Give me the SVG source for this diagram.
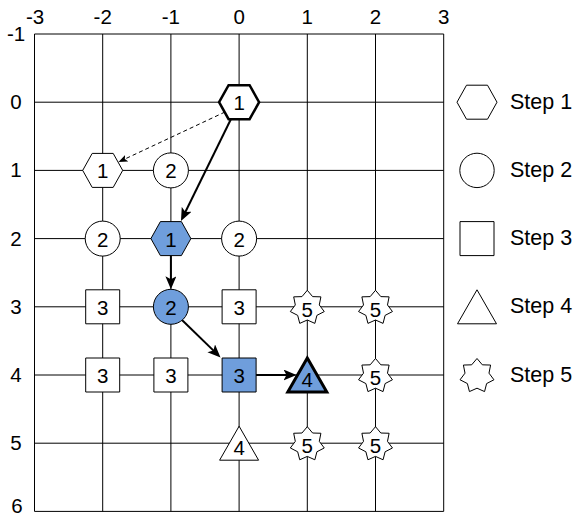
<svg xmlns="http://www.w3.org/2000/svg" width="579" height="517" viewBox="0 0 579 517">
  <style>
    .grid line { stroke: #000; stroke-width: 1; }
    .axis { font-family: "Liberation Sans", Arial, sans-serif; font-size: 20.5px; fill: #000; text-anchor: middle; }
    .shape { fill: #fff; stroke: #000; stroke-width: 1; }
    .blue { fill: #6F9EDC; }
    .bold { stroke-width: 2.5; }
    .label { font-family: "Liberation Sans", Arial, sans-serif; font-size: 20.5px; fill: #000; text-anchor: middle; }
    .legend { font-family: "Liberation Sans", Arial, sans-serif; font-size: 21.5px; fill: #000; }
    .edge { stroke: #000; stroke-width: 2; fill: none; }
    .dashed { stroke: #000; stroke-width: 1; stroke-dasharray: 4 3; fill: none; }
  </style>
  <defs>
    <path id="hex" d="M-20,0 L-10.5,-17 L10.5,-17 L20,0 L10.5,17 L-10.5,17 Z"/>
    <path id="sq" d="M-17,-17 H17 V17 H-17 Z"/>
    <path id="tri" d="M0,-17 L19.5,17 L-19.5,17 Z"/>
    <path id="star" d="M0,-17.4 L5.34,-11.08 L13.6,-10.85 L11.99,-2.74 L16.96,3.87 L9.62,7.67 L7.55,15.68 L0,12.3 L-7.55,15.68 L-9.62,7.67 L-16.96,3.87 L-11.99,-2.74 L-13.6,-10.85 L-5.34,-11.08 Z"/>
    <marker id="head" markerUnits="userSpaceOnUse" markerWidth="14" markerHeight="12" refX="5" refY="5.5" orient="auto">
      <path d="M0,0 L13,5.5 L0,11 L3,5.5 Z" fill="#000"/>
    </marker>
    <marker id="headSmall" markerUnits="userSpaceOnUse" markerWidth="10" markerHeight="8" refX="4" refY="3.5" orient="auto">
      <path d="M0,0 L9,3.5 L0,7 L2,3.5 Z" fill="#000"/>
    </marker>
  </defs>

  <!-- grid -->
  <g id="grid" class="grid">
    <line x1="34.5" y1="34" x2="34.5" y2="511.4"/>
    <line x1="102.7" y1="34" x2="102.7" y2="511.4"/>
    <line x1="170.9" y1="34" x2="170.9" y2="511.4"/>
    <line x1="239.1" y1="34" x2="239.1" y2="511.4"/>
    <line x1="307.3" y1="34" x2="307.3" y2="511.4"/>
    <line x1="375.5" y1="34" x2="375.5" y2="511.4"/>
    <line x1="443.7" y1="34" x2="443.7" y2="511.4"/>
    <line x1="34.5" y1="34" x2="443.7" y2="34"/>
    <line x1="34.5" y1="102.2" x2="443.7" y2="102.2"/>
    <line x1="34.5" y1="170.4" x2="443.7" y2="170.4"/>
    <line x1="34.5" y1="238.6" x2="443.7" y2="238.6"/>
    <line x1="34.5" y1="306.8" x2="443.7" y2="306.8"/>
    <line x1="34.5" y1="375" x2="443.7" y2="375"/>
    <line x1="34.5" y1="443.2" x2="443.7" y2="443.2"/>
    <line x1="34.5" y1="511.4" x2="443.7" y2="511.4"/>
  </g>

  <!-- axis labels -->
  <g id="axes" class="axis">
    <text x="35" y="23.5">-3</text>
    <text x="102.7" y="23.5">-2</text>
    <text x="170.9" y="23.5">-1</text>
    <text x="239.1" y="23.5">0</text>
    <text x="307.3" y="23.5">1</text>
    <text x="375.5" y="23.5">2</text>
    <text x="443.7" y="23.5">3</text>
    <text x="16" y="41">-1</text>
    <text x="16" y="109.2">0</text>
    <text x="16" y="177.4">1</text>
    <text x="16" y="245.6">2</text>
    <text x="16" y="313.8">3</text>
    <text x="16" y="382">4</text>
    <text x="16" y="450.2">5</text>
    <text x="17" y="512.6">6</text>
  </g>

  <!-- connectors -->
  <g id="connectors">
    <line class="dashed" x1="225" y1="112" x2="123" y2="159.9" marker-end="url(#headSmall)"/>
    <line class="edge" x1="231" y1="119" x2="184.5" y2="213.8" marker-end="url(#head)"/>
    <line class="edge" x1="170.9" y1="255.6" x2="170.9" y2="281.3" marker-end="url(#head)"/>
    <line class="edge" x1="182" y1="320" x2="214.8" y2="351.9" marker-end="url(#head)"/>
    <line class="edge" x1="256" y1="375" x2="288.5" y2="375" marker-end="url(#head)"/>
  </g>

  <!-- nodes -->
  <g id="n-0-0" transform="translate(239.1,102.2)">
    <use href="#hex" class="shape bold"/>
    <text class="label" y="8">1</text>
  </g>
  <g id="n-m2-1" transform="translate(102.7,170.4)">
    <use href="#hex" class="shape"/>
    <text class="label" y="8">1</text>
  </g>
  <g id="n-m1-1" transform="translate(170.9,170.4)">
    <circle r="17.5" class="shape"/>
    <text class="label" y="8">2</text>
  </g>
  <g id="n-m2-2" transform="translate(102.7,238.6)">
    <circle r="17.5" class="shape"/>
    <text class="label" y="8">2</text>
  </g>
  <g id="n-m1-2" transform="translate(170.9,238.6)">
    <use href="#hex" class="shape blue"/>
    <text class="label" y="8">1</text>
  </g>
  <g id="n-0-2" transform="translate(239.1,238.6)">
    <circle r="17.5" class="shape"/>
    <text class="label" y="8">2</text>
  </g>
  <g id="n-m2-3" transform="translate(102.7,306.8)">
    <use href="#sq" class="shape"/>
    <text class="label" y="8">3</text>
  </g>
  <g id="n-m1-3" transform="translate(170.9,306.8)">
    <circle r="17.5" class="shape blue"/>
    <text class="label" y="8">2</text>
  </g>
  <g id="n-0-3" transform="translate(239.1,306.8)">
    <use href="#sq" class="shape"/>
    <text class="label" y="8">3</text>
  </g>
  <g id="n-1-3" transform="translate(307.3,307.7)">
    <use href="#star" class="shape"/>
    <text class="label" y="9">5</text>
  </g>
  <g id="n-2-3" transform="translate(375.5,307.7)">
    <use href="#star" class="shape"/>
    <text class="label" y="9">5</text>
  </g>
  <g id="n-m2-4" transform="translate(102.7,375)">
    <use href="#sq" class="shape"/>
    <text class="label" y="8">3</text>
  </g>
  <g id="n-m1-4" transform="translate(170.9,375)">
    <use href="#sq" class="shape"/>
    <text class="label" y="8">3</text>
  </g>
  <g id="n-0-4" transform="translate(239.1,375)">
    <use href="#sq" class="shape blue"/>
    <text class="label" y="8">3</text>
  </g>
  <g id="n-1-4" transform="translate(307.3,375)">
    <use href="#tri" class="shape blue" style="stroke-width:3"/>
    <text class="label" y="11.7">4</text>
  </g>
  <g id="n-2-4" transform="translate(375.5,375.9)">
    <use href="#star" class="shape"/>
    <text class="label" y="9">5</text>
  </g>
  <g id="n-0-5" transform="translate(239.1,443.2)">
    <use href="#tri" class="shape"/>
    <text class="label" y="11.7">4</text>
  </g>
  <g id="n-1-5" transform="translate(307.3,444.1)">
    <use href="#star" class="shape"/>
    <text class="label" y="9">5</text>
  </g>
  <g id="n-2-5" transform="translate(375.5,444.1)">
    <use href="#star" class="shape"/>
    <text class="label" y="9">5</text>
  </g>

  <!-- legend -->
  <g id="legend-step1" transform="translate(477,102.2)">
    <use href="#hex" class="shape"/>
    <text class="legend" x="33" y="6.5">Step 1</text>
  </g>
  <g id="legend-step2" transform="translate(477,170.4)">
    <circle r="17.2" class="shape"/>
    <text class="legend" x="33" y="6.5">Step 2</text>
  </g>
  <g id="legend-step3" transform="translate(477,238.6)">
    <use href="#sq" class="shape"/>
    <text class="legend" x="33" y="6.5">Step 3</text>
  </g>
  <g id="legend-step4" transform="translate(477,306.8)">
    <use href="#tri" class="shape"/>
    <text class="legend" x="33" y="6.5">Step 4</text>
  </g>
  <g id="legend-step5" transform="translate(477,375.9)">
    <use href="#star" class="shape"/>
    <text class="legend" x="33" y="5.6">Step 5</text>
  </g>
</svg>
